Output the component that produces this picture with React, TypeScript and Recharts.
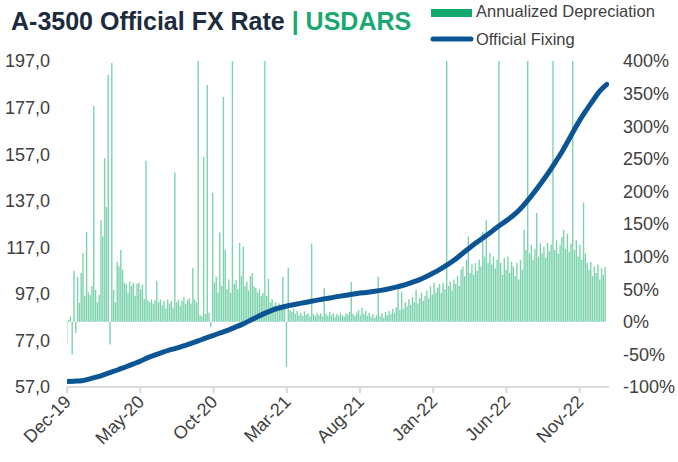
import { ComposedChart, Bar, Line, XAxis, YAxis } from 'recharts'

// x positions are months since Dec-19
const tickMonths = [0, 5, 10, 15, 20, 25, 30, 35]
const tickLabels = ['Dec-19', 'May-20', 'Oct-20', 'Mar-21', 'Aug-21', 'Jan-22', 'Jun-22', 'Nov-22']
const rateTicks = [57, 77, 97, 117, 137, 157, 177, 197]
const pctTicks = [-100, -50, 0, 50, 100, 150, 200, 250, 300, 350, 400]

// A-3500 official fixing, about every half month
const fixing = [
  59.4, 59.5, 59.7, 60.4, 61.2, 62.2, 63.3, 64.4, 65.6, 66.8,
  68.0, 69.5, 70.7, 71.8, 72.8, 73.7, 74.7, 75.7, 76.8, 78.0,
  79.1, 80.2, 81.3, 82.6, 83.9, 85.4, 87.0, 88.5, 89.8, 90.9,
  91.7, 92.3, 92.9, 93.5, 94.1, 94.7, 95.2, 95.8, 96.3, 96.8,
  97.3, 97.6, 98.0, 98.5, 99.1, 99.8, 100.6, 101.6, 102.7, 104.0,
  105.6, 107.3, 109.2, 111.3, 113.8, 116.3, 118.7, 121.0, 123.2, 125.7,
  127.9, 130.2, 133.0, 136.5, 140.4, 144.6, 149.0, 153.8, 158.8, 164.4,
  170.0, 175.0, 179.6, 184.0, 187.0,
]

// annualized depreciation (%), sampled every few days
const depreciation = [
  -33, 3, 8, -50, 78, -17, 69, 29, 75, 105,
  40, 138, 45, 41, 55, 331, 49, 30, 41, 156,
  131, 251, 176, 379, -35, 397, 49, 30, 92, 85,
  110, 80, 60, 58, 45, 62, 55, 60, 40, 58,
  60, 50, 57, 35, 247, 33, 30, 34, 28, 33,
  63, 30, 34, 25, 32, 20, 34, 28, 32, 22,
  229, 30, 34, 24, 32, 38, 27, 33, 36, 28,
  83, 34, 30, 430, 10, 8, 253, 12, 363, 14,
  -8, 198, 60, 69, 45, 137, 55, 345, 110, 50,
  65, 45, 430, 58, 64, 50, 121, 70, 115, 55,
  62, 48, 70, 75, 55, 52, 45, 50, 40, 44,
  430, 40, 66, 30, 35, 25, 30, 22, 28, 25,
  69, 20, -69, 83, 18, 15, 20, 12, 17, 10,
  14, 9, 16, 11, 13, 8, 120, 12, 9, 14,
  10, 13, 8, 52, 12, 9, 15, 10, 13, 7,
  12, 9, 14, 10, 8, 13, 11, 15, 61, 12,
  9, 14, 18, 10, 21, 12, 17, 9, 14, 7,
  12, 6, 10, 69, 8, 13, 6, 15, 10, 17,
  12, 20, 14, 22, 49, 18, 46, 20, 30, 24,
  35, 26, 38, 30, 49, 28, 36, 45, 32, 40,
  48, 36, 55, 42, 60, 45, 52, 58, 44, 60,
  50, 430, 55, 62, 48, 65, 58, 70, 55, 80,
  85, 70, 95, 131, 75, 88, 72, 90, 78, 95,
  85, 138, 100, 156, 90, 105, 88, 100, 82, 95,
  430, 90, 72, 98, 80, 100, 75, 92, 85, 70,
  90, 65, 95, 80, 141, 110, 430, 105, 118, 95,
  112, 167, 100, 120, 105, 115, 98, 121, 108, 118,
  430, 110, 125, 105, 118, 130, 141, 112, 135, 108,
  120, 430, 110, 125, 100, 118, 95, 183, 105, 90,
  80, 92, 70, 85, 75, 88, 65, 82, 72, 84,
]

const depData = depreciation.map((v, i) => ({ t: (i * 36.75) / (depreciation.length - 1), dep: v }))
const fixData = fixing.map((v, i) => ({ t: (i * 36.85) / (fixing.length - 1), rate: v }))

const FONT = '"Liberation Sans", Arial, sans-serif'
const TEXT = '#404040'

const RateTick = (props: any) => {
  const { x, y, payload } = props
  return (
    <text x={x} y={y} dy="0.355em" textAnchor="end" fontSize={18} fontFamily={FONT} fill={TEXT}>
      {Number(payload.value).toFixed(1).replace('.', ',')}
    </text>
  )
}

const PctTick = (props: any) => {
  const { x, y, payload } = props
  return (
    <text x={x} y={y} dy="0.355em" textAnchor="start" fontSize={18} fontFamily={FONT} fill={TEXT}>
      {payload.value}%
    </text>
  )
}

const MonthTick = (props: any) => {
  const { x, y, payload } = props
  const label = tickLabels[tickMonths.indexOf(payload.value)]
  return (
    <g transform={`translate(${x + 5},${y + 8})`}>
      <text x={0} y={0} transform="rotate(-45)" textAnchor="end" fontSize={18} fontFamily={FONT} fill={TEXT}>
        {label}
      </text>
    </g>
  )
}

export default function App() {
  return (
    <div style={{ position: 'absolute', left: 0, top: 0, width: 678, height: 462, background: '#fff' }}>
      <ComposedChart width={678} height={462} data={depData} margin={{ top: 61, right: 0, bottom: 0, left: 0 }}>
        <XAxis
          dataKey="t"
          type="number"
          domain={[0, 37]}
          ticks={tickMonths}
          interval={0}
          allowDataOverflow
          height={75}
          stroke="#d9d9d9"
          strokeWidth={2}
          tickSize={6}
          tick={MonthTick}
        />
        <XAxis xAxisId="fix" dataKey="t" type="number" domain={[0, 37]} allowDataOverflow hide />
        <YAxis
          yAxisId="rate"
          domain={[57, 197]}
          ticks={rateTicks}
          interval={0}
          allowDataOverflow
          width={67}
          axisLine={false}
          tickLine={false}
          tickMargin={11}
          tick={RateTick}
        />
        <YAxis
          yAxisId="pct"
          orientation="right"
          domain={[-100, 400]}
          ticks={pctTicks}
          interval={0}
          allowDataOverflow
          width={69}
          axisLine={false}
          tickLine={false}
          tickMargin={8}
          tick={PctTick}
        />
        <Bar yAxisId="pct" dataKey="dep" fill="#7dd3ad" barSize={1.4} isAnimationActive={false} />
        <Line
          xAxisId="fix"
          yAxisId="rate"
          data={fixData}
          dataKey="rate"
          type="monotone"
          stroke="#0b5595"
          strokeWidth={5}
          strokeLinecap="round"
          dot={false}
          activeDot={false}
          isAnimationActive={false}
        />
      </ComposedChart>
      <svg width={678} height={60} style={{ position: 'absolute', left: 0, top: 0, pointerEvents: 'none' }}>
        <text x={11} y={30} fontSize={25} fontWeight="bold" fontFamily={FONT} fill="#1d2b3e">
          A-3500 Official FX Rate <tspan fill="#1aa871">| USDARS</tspan>
        </text>
        <rect x={431} y={9} width={41} height={8} fill="#12a86e" />
        <text x={476} y={17} fontSize={16.5} fontFamily={FONT} fill={TEXT}>Annualized Depreciation</text>
        <line x1={433} y1={39} x2={471} y2={39} stroke="#0b5595" strokeWidth={5} strokeLinecap="round" />
        <text x={476} y={45} fontSize={16.5} fontFamily={FONT} fill={TEXT}>Official Fixing</text>
      </svg>
    </div>
  )
}
